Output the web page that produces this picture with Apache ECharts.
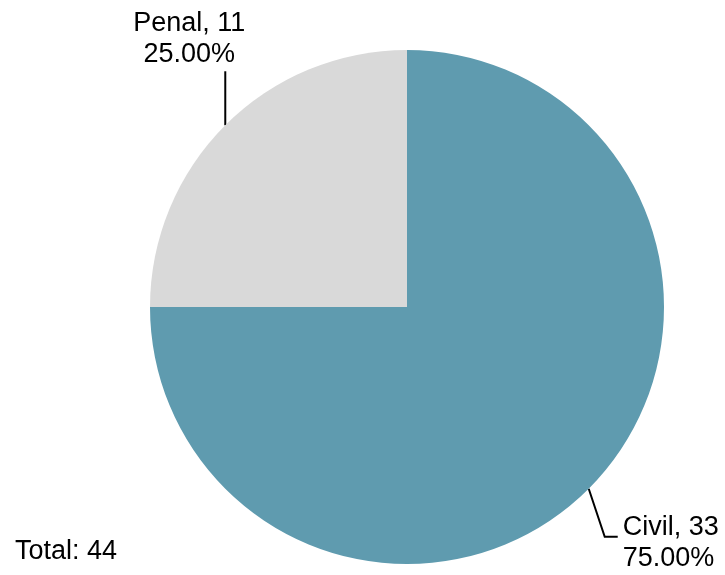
<!DOCTYPE html>
<html>
<head>
<meta charset="utf-8">
<script src="https://cdn.jsdelivr.net/npm/echarts@6/dist/echarts.min.js"></script>
<style>
  html, body { margin: 0; padding: 0; background: #fff; }
  #chart { width: 725px; height: 575px; }
</style>
</head>
<body>
<div id="chart"></div>
<script>
// data
var categories = ['Civil', 'Penal'];
var values = [33, 11];
var colors = ['#5F9BAF', '#D9D9D9'];

var total = values.reduce(function (a, b) { return a + b; }, 0);
var pieData = categories.map(function (name, i) {
  return { name: name, value: values[i], itemStyle: { color: colors[i] } };
});

var cx = 407, cy = 307, r = 257;
var font = 'Liberation Sans';

var chart = echarts.init(document.getElementById('chart'), null, { renderer: 'canvas' });

chart.setOption({
  backgroundColor: '#fff',
  animation: false,
  title: {
    text: 'Total: ' + total,
    left: 15,
    top: 538,
    padding: 0,
    textStyle: { fontFamily: font, fontSize: 27, fontWeight: 'normal', color: '#000' }
  },
  series: [{
    type: 'pie',
    center: [cx, cy],
    radius: r,
    startAngle: 90,
    clockwise: true,
    avoidLabelOverlap: false,
    data: pieData,
    itemStyle: { borderWidth: 0 },
    label: {
      show: true,
      position: 'outside',
      fontFamily: font,
      fontSize: 27,
      lineHeight: 31,
      color: '#000',
      formatter: function (p) {
        return p.name + ', ' + p.value + '\n' + p.percent.toFixed(2) + '%';
      }
    },
    labelLine: {
      show: true,
      length: 20,
      length2: 10,
      lineStyle: { color: '#000', width: 2 }
    },
    labelLayout: function (p) {
      var s = p.labelLinePoints && p.labelLinePoints[0];
      if (p.dataIndex === 1) {
        if (!s) s = [cx - r * Math.SQRT1_2, cy - r * Math.SQRT1_2];
        return {
          x: s[0] - 36, y: s[1] - 55,
          align: 'center', verticalAlign: 'bottom',
          labelLinePoints: [s, [s[0], s[1] - 54]]
        };
      }
      if (!s) s = [cx + r * Math.SQRT1_2, cy + r * Math.SQRT1_2];
      return {
        x: s[0] + 34, y: s[1] + 48 - 25,
        align: 'left', verticalAlign: 'top',
        labelLinePoints: [s, [s[0] + 16, s[1] + 48], [s[0] + 29, s[1] + 48]]
      };
    }
  }]
});
</script>
</body>
</html>
